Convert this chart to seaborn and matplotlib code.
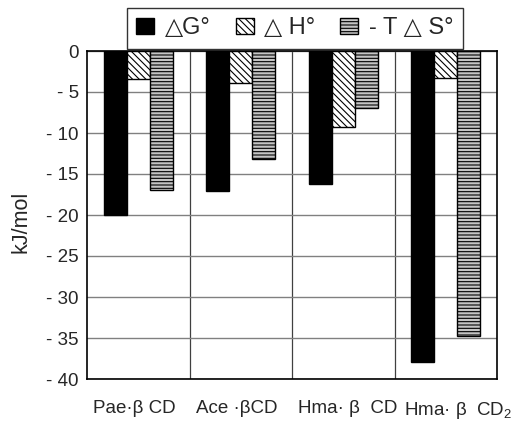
import matplotlib
matplotlib.use("Agg")
import matplotlib.pyplot as plt
import matplotlib.transforms as mtransforms
import seaborn as sns
import pandas as pd
from matplotlib.patches import Patch
from matplotlib.ticker import FixedLocator

categories = ["Pae·β CD", "Ace ·βCD", "Hma· β  CD", "Hma· β  CD$_2$"]
series = ["△G°", "△ H°", "- T △ S°"]
dG = [-20.0, -17.1, -16.2, -37.9]
dH = [-3.4, -3.9, -9.3, -3.3]
TdS = [-16.9, -13.2, -6.9, -34.7]
yticks = [0, -5, -10, -15, -20, -25, -30, -35, -40]
ytick_labels = ["0", "- 5", "- 10", "- 15", "- 20", "- 25", "- 30", "- 35", "- 40"]

rows = []
for s, vals in zip(series, [dG, dH, TdS]):
    for c, v in zip(categories, vals):
        rows.append({"cat": c, "series": s, "value": v})
df = pd.DataFrame(rows)

sns.set_theme(style="white")
plt.rcParams["font.family"] = ["Liberation Sans", "DejaVu Sans"]
plt.rcParams["mathtext.fontset"] = "custom"
plt.rcParams["mathtext.rm"] = "Liberation Sans"
plt.rcParams["mathtext.it"] = "Liberation Sans"
plt.rcParams["hatch.linewidth"] = 0.8
plt.rcParams["hatch.color"] = "black"

fig = plt.figure(figsize=(5.15, 4.24), dpi=100)
ax = fig.add_axes([87 / 515, 1 - 379 / 424, (497 - 87) / 515, (379 - 51) / 424])

styles = [
    dict(fc="black", hatch=None),
    dict(fc="white", hatch="\\\\\\\\\\"),
    dict(fc="#c4c4c4", hatch="-----"),
]

sns.barplot(data=df, x="cat", y="value", hue="series", order=categories,
            hue_order=series, width=0.67, ax=ax, legend=False,
            palette=["black", "white", "#c4c4c4"], saturation=1, zorder=3)

for cont, st in zip(ax.containers, styles):
    for p in cont:
        p.set_facecolor(st["fc"])
        p.set_edgecolor("black")
        p.set_linewidth(1.0)
        if st["hatch"]:
            p.set_hatch(st["hatch"])

ax.set_ylim(-40, 0)
ax.set_xlim(-0.5, 3.5)
ax.set_yticks(yticks)
ax.set_yticklabels(ytick_labels, fontsize=13.5)
ax.set_xticks(range(len(categories)))
ax.set_xticklabels(categories, fontsize=13.5)
ax.xaxis.set_minor_locator(FixedLocator([0.5, 1.5, 2.5]))
ax.tick_params(axis="x", which="both", length=0, pad=15)
ax.tick_params(axis="y", length=0, pad=6)
ax.grid(axis="y", color="#808080", linewidth=1.0, zorder=0)
ax.grid(axis="x", which="minor", color="#404040", linewidth=0.9, zorder=0)
ax.grid(axis="x", which="major", visible=False)
ax.set_axisbelow(True)
for sp in ax.spines.values():
    sp.set_color("black")
    sp.set_linewidth(1.2)

# small horizontal nudges of the category labels (in pixels)
for lab, dx in zip(ax.get_xticklabels(), [-4, -4, 4, 12]):
    lab.set_transform(lab.get_transform() + mtransforms.ScaledTranslation(dx / 100, 0, fig.dpi_scale_trans))

ax.set_xlabel("")
ax.set_ylabel("kJ/mol", fontsize=15.5)
ax.yaxis.set_label_coords(-0.135, 0.48)

handles = [Patch(facecolor=st["fc"], edgecolor="black", hatch=st["hatch"], linewidth=1.0)
           for st in styles]
leg = fig.legend(handles, series, loc="upper left", bbox_to_anchor=(127 / 515, 1 - 8 / 424),
                 ncol=3, frameon=True, fancybox=False, edgecolor="black",
                 fontsize=17, handlelength=0.76, handleheight=0.64, handletextpad=0.45,
                 columnspacing=1.05, borderpad=0.4, borderaxespad=0)
leg.get_frame().set_linewidth(1.0)

fig.savefig("out.png", dpi=100)
